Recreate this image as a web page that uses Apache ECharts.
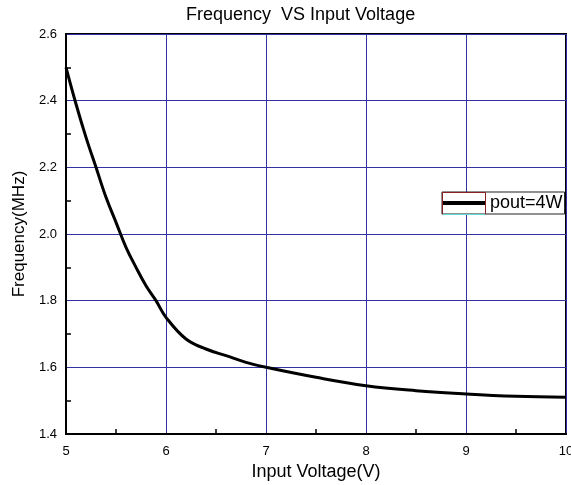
<!DOCTYPE html>
<html style="height: 100%">
<head>
  <meta charset="utf-8">
</head>
<body style="height: 100%; margin: 0; background: #fff">
  <div id="container" style="width: 571px; height: 485px"></div>
  <script type="text/javascript" src="https://cdn.jsdelivr.net/npm/echarts@6/dist/echarts.min.js"></script>
  <script type="text/javascript">
    // input voltage (V)
    var voltage = [5, 5.1, 5.2, 5.3, 5.4, 5.5, 5.6, 5.7, 5.8, 5.9, 6.0,
      6.2, 6.4, 6.6, 6.8, 7.0, 7.5, 8.0, 8.5, 9.0, 9.5, 10];
    // frequency (MHz) at pout=4W
    var freq = [2.50, 2.39, 2.29, 2.20, 2.11, 2.035, 1.96, 1.90, 1.845, 1.80, 1.75,
      1.685, 1.655, 1.635, 1.615, 1.60, 1.57, 1.545, 1.53, 1.52, 1.513, 1.51];
    var seriesName = 'pout=4W';

    var points = voltage.map(function (v, i) { return [v, freq[i]]; });

    var font = 'Liberation Sans, Arial, sans-serif';
    var gridBlue = '#3232a0';

    var myChart = echarts.init(document.getElementById('container'), null, { renderer: 'canvas' });

    var option = {
      backgroundColor: '#fff',
      animation: false,
      title: {
        text: 'Frequency  VS Input Voltage',
        left: 186,
        top: 6,
        padding: 0,
        textStyle: { fontFamily: font, fontSize: 18, fontWeight: 'normal', color: '#000' }
      },
      legend: {
        data: [seriesName],
        left: 442,
        top: 192,
        icon: 'rect',
        itemWidth: 43,
        itemHeight: 4,
        itemGap: 0,
        padding: [2, 2, 2, 0],
        borderColor: '#222',
        borderWidth: 1,
        backgroundColor: '#fff',
        textStyle: { fontFamily: font, fontSize: 18, color: '#000' }
      },
      // little frame around the legend swatch
      graphic: [
        {
          type: 'polyline',
          shape: { points: [[442.5, 214.5], [442.5, 192.5], [485.5, 192.5], [485.5, 214.5]] },
          style: { fill: 'none', stroke: '#8b2020', lineWidth: 1 },
          z: 100
        },
        {
          type: 'line',
          shape: { x1: 442.5, y1: 214.5, x2: 485.5, y2: 214.5 },
          style: { stroke: '#60d8d8', lineWidth: 1 },
          z: 101
        }
      ],
      grid: {
        left: 66,
        right: 5,
        top: 34,
        bottom: 51,
        show: true,
        borderColor: '#000',
        borderWidth: 2,
        outerBoundsMode: 'none',
        containLabel: false
      },
      xAxis: {
        type: 'value',
        min: 5,
        max: 10,
        interval: 1,
        name: 'Input Voltage(V)',
        nameLocation: 'middle',
        nameGap: 24,
        nameTextStyle: { fontFamily: font, fontSize: 18, color: '#000' },
        axisLine: { show: true, lineStyle: { color: '#000', width: 2 } },
        axisTick: { show: false },
        minorTick: { show: true, splitNumber: 2, length: -5, lineStyle: { color: '#000', width: 1.5 } },
        axisLabel: { fontFamily: font, fontSize: 13, color: '#000', margin: 11 },
        splitLine: { show: true, lineStyle: { color: gridBlue, width: 1 } }
      },
      yAxis: {
        type: 'value',
        min: 1.4,
        max: 2.6,
        interval: 0.2,
        name: 'Frequency(MHz)',
        nameLocation: 'middle',
        nameGap: 38,
        nameTextStyle: { fontFamily: font, fontSize: 17, color: '#000' },
        axisLine: { show: true, lineStyle: { color: '#000', width: 2 } },
        axisTick: { show: false },
        minorTick: { show: true, splitNumber: 2, length: -5, lineStyle: { color: '#000', width: 1.5 } },
        axisLabel: {
          fontFamily: font, fontSize: 13, color: '#000', margin: 9,
          formatter: function (v) { return v.toFixed(1); }
        },
        splitLine: { show: true, lineStyle: { color: gridBlue, width: 1 } }
      },
      series: [
        {
          name: seriesName,
          type: 'line',
          data: points,
          smooth: 0.4,
          showSymbol: false,
          color: '#000',
          lineStyle: { color: '#000', width: 3 }
        }
      ]
    };

    myChart.setOption(option);
    window.addEventListener('resize', myChart.resize);
  </script>
</body>
</html>
